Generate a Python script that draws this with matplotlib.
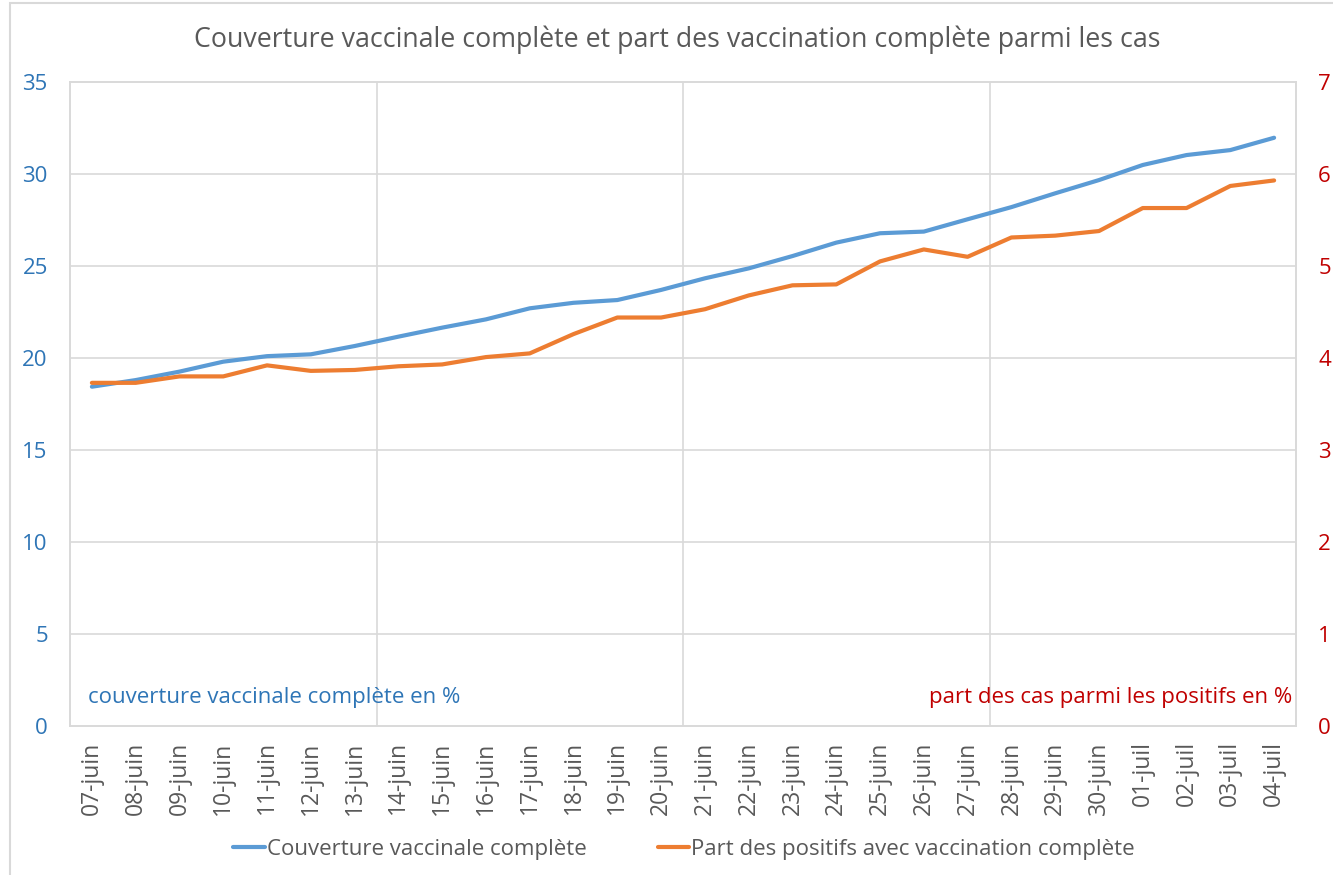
import numpy as np
import matplotlib.pyplot as plt
from matplotlib.patches import Rectangle

dates = ["07-juin", "08-juin", "09-juin", "10-juin", "11-juin", "12-juin", "13-juin",
         "14-juin", "15-juin", "16-juin", "17-juin", "18-juin", "19-juin", "20-juin",
         "21-juin", "22-juin", "23-juin", "24-juin", "25-juin", "26-juin", "27-juin",
         "28-juin", "29-juin", "30-juin", "01-juil", "02-juil", "03-juil", "04-juil"]

couverture = [18.44, 18.8, 19.26, 19.8, 20.1, 20.2, 20.65,
              21.16, 21.65, 22.1, 22.7, 23.0, 23.15, 23.7,
              24.33, 24.87, 25.54, 26.27, 26.78, 26.87, 27.54,
              28.2, 28.95, 29.67, 30.49, 31.03, 31.3, 31.97]

part_positifs = [3.73, 3.73, 3.80, 3.80, 3.92, 3.86, 3.87,
                 3.91, 3.93, 4.01, 4.05, 4.26, 4.44, 4.44,
                 4.53, 4.68, 4.79, 4.80, 5.05, 5.18, 5.10,
                 5.31, 5.33, 5.38, 5.63, 5.63, 5.87, 5.93]

plt.rcParams['font.family'] = ['Open Sans', 'DejaVu Sans']

blue = "#5B9BD5"
orange = "#ED7D31"
grid_c = "#D9D9D9"
txt = "#595959"
lblue = "#2E75B6"
red = "#C00000"

fig = plt.figure(figsize=(13.33, 8.75), dpi=100)
ax = fig.add_axes([70 / 1333, 1 - 726 / 875, (1296 - 70) / 1333, (726 - 82) / 875])
ax2 = ax.twinx()

x = np.arange(len(dates))
ax.plot(x, couverture, color=blue, lw=3, solid_capstyle="round", zorder=3,
        label="Couverture vaccinale complète")
ax2.plot(x, part_positifs, color=orange, lw=3, solid_capstyle="round", zorder=3,
         label="Part des positifs avec vaccination complète")

ax.set_xlim(-0.5, len(dates) - 0.5)
ax.set_ylim(0, 35)
ax2.set_ylim(0, 7)
ax.set_yticks(np.arange(0, 36, 5))
ax2.set_yticks(np.arange(0, 8, 1))

# category boundaries every 7 days as vertical gridlines
for b in [6.5, 13.5, 20.5]:
    ax.axvline(b, color=grid_c, lw=1.2, zorder=0)
for v in np.arange(5, 35, 5):
    ax.axhline(v, color=grid_c, lw=1.2, zorder=0)

for a in (ax, ax2):
    for s in a.spines.values():
        s.set_color(grid_c)
        s.set_linewidth(1.2)

ax.set_xticks(x)
ax.set_xticklabels(dates, rotation=90, fontsize=16.5, color=txt)
ax.tick_params(axis="x", length=0, pad=11)
ax.tick_params(axis="y", length=0, labelsize=16, labelcolor=lblue, pad=16)
ax2.tick_params(axis="y", length=0, labelsize=16, labelcolor=red, pad=16)

ax.text(0.015, 0.045, "couverture vaccinale complète en %", transform=ax.transAxes,
        color=lblue, fontsize=16, ha="left", va="center")
ax2.text(0.997, 0.045, "part des cas parmi les positifs en %", transform=ax.transAxes,
         color=red, fontsize=16, ha="right", va="center")

fig.text(677 / 1333, 1 - 40 / 875, "Couverture vaccinale complète et part des vaccination complète parmi les cas",
         ha="center", va="center", fontsize=19.3, color=txt)

h1, l1 = ax.get_legend_handles_labels()
h2, l2 = ax2.get_legend_handles_labels()
fig.legend(h1 + h2, l1 + l2, loc="center", bbox_to_anchor=(684 / 1333, 1 - 849 / 875), ncol=2,
           frameon=False, fontsize=16, labelcolor=txt, handlelength=1.4,
           handletextpad=0.1, columnspacing=3.2)

fig.patches.append(Rectangle((10 / 1333, -0.01), 1.0, 1 - 3 / 875 + 0.01, transform=fig.transFigure,
                             fill=False, edgecolor=grid_c, lw=1.5))

fig.savefig("out.png", dpi=100)
